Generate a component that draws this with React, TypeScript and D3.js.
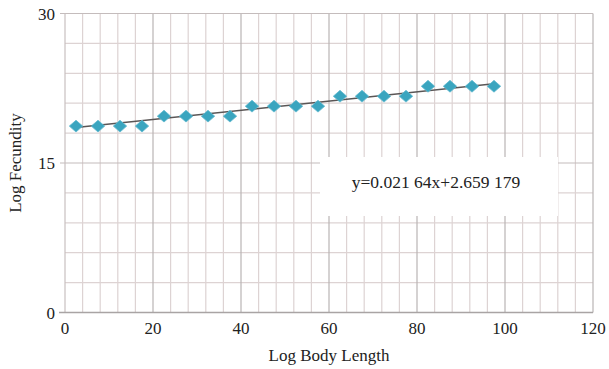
import { useEffect, useRef } from "react";
import * as d3 from "d3";

// data
const bodyLength = [2.5, 7.5, 12.5, 17.5, 22.5, 27.5, 32.5, 37.5, 42.5, 47.5, 52.5, 57.5, 62.5, 67.5, 72.5, 77.5, 82.5, 87.5, 92.5, 97.5];
const fecundity = [18.7, 18.7, 18.7, 18.7, 19.7, 19.7, 19.7, 19.7, 20.7, 20.7, 20.7, 20.7, 21.7, 21.7, 21.7, 21.7, 22.7, 22.7, 22.7, 22.7];
const trendX = [2.5, 97.5];
const trendY = [18.55, 22.95];
const xTicks = [0, 20, 40, 60, 80, 100, 120];
const yTicks = [0, 15, 30];
const equation = "y=0.021 64x+2.659 179";

export default function App() {
  const svgRef = useRef<SVGSVGElement>(null);

  useEffect(() => {
    const svg = d3.select(svgRef.current);
    svg.selectAll("*").remove();

    const width = 609;
    const height = 369;
    const left = 65, right = 593, top = 13.5, bottom = 312.5;
    const font = "'Liberation Serif', 'DejaVu Serif', serif";

    svg.attr("width", width).attr("height", height);

    const x = d3.scaleLinear().domain([0, 120]).range([left, right]);
    const y = d3.scaleLinear().domain([0, 30]).range([bottom, top]);

    svg.append("rect").attr("width", width).attr("height", height).attr("fill", "#fff");

    // minor grid
    const g = svg.append("g");
    g.selectAll(".vx")
      .data(d3.range(4, 120, 4).filter(v => v % 20 !== 0))
      .enter().append("line")
      .attr("x1", d => x(d)).attr("x2", d => x(d))
      .attr("y1", top).attr("y2", bottom)
      .attr("stroke", "#ddd3d3").attr("stroke-width", 1.2);
    g.selectAll(".hy")
      .data(d3.range(3, 30, 3).filter(v => v % 15 !== 0))
      .enter().append("line")
      .attr("x1", left).attr("x2", right)
      .attr("y1", d => y(d)).attr("y2", d => y(d))
      .attr("stroke", "#ddd3d3").attr("stroke-width", 1.2);

    // major grid
    g.selectAll(".mx")
      .data(xTicks.slice(1))
      .enter().append("line")
      .attr("x1", d => x(d)).attr("x2", d => x(d))
      .attr("y1", top).attr("y2", bottom)
      .attr("stroke", "#b9b4b4").attr("stroke-width", 1.2);
    g.selectAll(".my")
      .data(yTicks.slice(1))
      .enter().append("line")
      .attr("x1", left - 5).attr("x2", right)
      .attr("y1", d => y(d)).attr("y2", d => y(d))
      .attr("stroke", "#c4bcbc").attr("stroke-width", 1.2);

    // axes
    g.append("line")
      .attr("x1", left).attr("x2", left).attr("y1", top).attr("y2", bottom)
      .attr("stroke", "#c8c0c0").attr("stroke-width", 1.2);
    g.append("line")
      .attr("x1", left - 6).attr("x2", right).attr("y1", bottom).attr("y2", bottom)
      .attr("stroke", "#a9a4a4").attr("stroke-width", 1.4);

    // equation box
    svg.append("rect")
      .attr("x", 320).attr("y", 157).attr("width", 238).attr("height", 59)
      .attr("fill", "#fff");
    svg.append("text")
      .attr("x", 436).attr("y", 188)
      .attr("text-anchor", "middle")
      .style("font-family", font).style("font-size", "17.5px").attr("fill", "#222")
      .text(equation);

    // trend line
    const line = d3.line<number>().x(d => x(d)).y((d, i) => y(trendY[i]));
    svg.append("path")
      .attr("d", line(trendX))
      .attr("fill", "none").attr("stroke", "#5a5656").attr("stroke-width", 1.5);

    // points
    const diamond = d3.symbol().type(d3.symbolDiamond2).size(98);
    svg.selectAll(".pt")
      .data(bodyLength)
      .enter().append("path")
      .attr("d", diamond)
      .attr("transform", (d, i) => `translate(${x(d)},${y(fecundity[i])}) scale(1.08,0.95)`)
      .attr("fill", "#3aa5bf").attr("stroke", "#5fb9cf").attr("stroke-width", 0.8);

    // tick labels
    svg.selectAll(".xl")
      .data(xTicks)
      .enter().append("text")
      .attr("x", d => x(d)).attr("y", 334)
      .attr("text-anchor", "middle")
      .style("font-family", font).style("font-size", "17px").attr("fill", "#222")
      .text(d => d);
    svg.selectAll(".yl")
      .data(yTicks)
      .enter().append("text")
      .attr("x", 55).attr("y", d => y(d) + 6)
      .attr("text-anchor", "end")
      .style("font-family", font).style("font-size", "17px").attr("fill", "#222")
      .text(d => d);

    // axis titles
    svg.append("text")
      .attr("x", 329).attr("y", 361)
      .attr("text-anchor", "middle")
      .style("font-family", font).style("font-size", "17px").attr("fill", "#222")
      .text("Log Body Length");
    svg.append("text")
      .attr("transform", `translate(21,${(top + bottom) / 2}) rotate(-90)`)
      .attr("text-anchor", "middle")
      .style("font-family", font).style("font-size", "17px").attr("fill", "#222")
      .text("Log Fecundity");
  }, []);

  return <svg ref={svgRef} style={{ position: "absolute", left: 0, top: 0 }}></svg>;
}
